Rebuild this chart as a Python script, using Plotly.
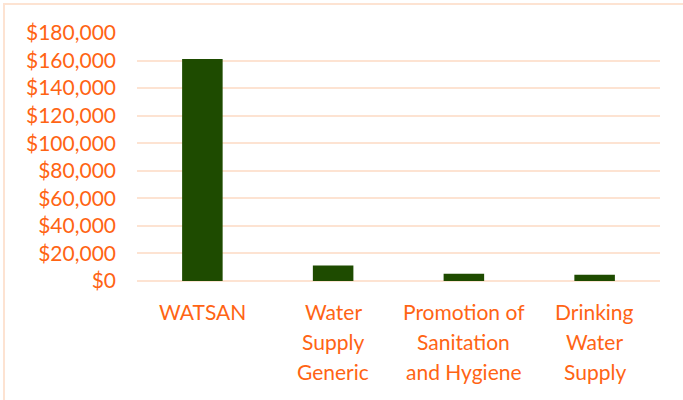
import plotly.graph_objects as go

categories = ["WATSAN", "Water Supply Generic", "Promotion of Sanitation and Hygiene", "Drinking Water Supply"]
label_lines = [["WATSAN"], ["Water", "Supply", "Generic"], ["Promotion of", "Sanitation", "and Hygiene"], ["Drinking", "Water", "Supply"]]
values = [161200, 11200, 5200, 4500]
y_ticks = [0, 20000, 40000, 60000, 80000, 100000, 120000, 140000, 160000, 180000]
y_tick_labels = ["$" + format(v, ",d") for v in y_ticks]

ORANGE = "#FF6414"
GRID = "#FDE3D2"
FONT = "Lato"

fig = go.Figure(go.Bar(x=categories, y=values, marker=dict(color="#1E4B00", line=dict(width=0)), width=0.31))

L, R, T, B = 137, 23, 33, 119
W, H = 683, 400
pw, ph = W - L - R, H - T - B

annotations = []
for cat, lines in zip(categories, label_lines):
    for i, line in enumerate(lines):
        annotations.append(dict(x=cat, xref="x", y=0, yref="paper", text=line, showarrow=False,
                                yanchor="middle", yshift=-(30 + 30 * i),
                                font=dict(family=FONT, size=21, color=ORANGE)))

fig.update_layout(
    width=W, height=H,
    margin=dict(l=L, r=R, t=T, b=B),
    paper_bgcolor="white", plot_bgcolor="white",
    showlegend=False,
    font=dict(family=FONT, size=21, color=ORANGE),
    xaxis=dict(showticklabels=False, showgrid=False, showline=False, ticks="", range=[-0.5, 3.5]),
    yaxis=dict(range=[0, 180000], tickvals=y_ticks, ticktext=y_tick_labels,
               showgrid=True, gridcolor=GRID, gridwidth=1.5, zeroline=True, zerolinecolor=GRID,
               zerolinewidth=1.5, showline=False, ticks="", ticklabelstandoff=20,
               tickfont=dict(family=FONT, size=21, color=ORANGE)),
    annotations=annotations,
    shapes=[dict(type="rect", xref="paper", yref="paper",
                 x0=(4 - L) / pw, x1=(W + 5 - L) / pw,
                 y0=(H - B - (H + 5)) / ph, y1=(H - B - 4) / ph,
                 line=dict(color=GRID, width=2), fillcolor="rgba(0,0,0,0)", layer="below")],
)

fig.write_html("out.html", config={"displayModeBar": False},
               post_script="document.body.style.margin='0';")
